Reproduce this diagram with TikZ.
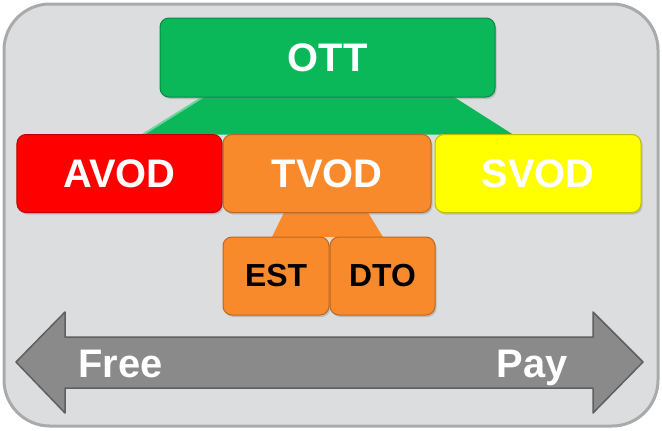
\documentclass[tikz,border=0pt]{standalone}
\usepackage{fontspec}
\setmainfont{Liberation Sans}
\usetikzlibrary{backgrounds,shadows}
\definecolor{Panel}{HTML}{DCDDDE}
\definecolor{PanelEdge}{HTML}{A9AAAB}
\definecolor{Leaf}{HTML}{0AB85A}
\definecolor{Crimson}{HTML}{FF0000}
\definecolor{Amber}{HTML}{F98A2C}
\definecolor{Lemon}{HTML}{FFFF00}
\definecolor{Slate}{HTML}{8A8A8A}
\definecolor{SlateEdge}{HTML}{5F5F5F}
\tikzset{
  tile/.style={draw=#1!75!black,fill=#1,line width=1bp,rounded corners=9bp,
    inner sep=0bp,outer sep=0bp,
    drop shadow={shadow xshift=1.5bp,shadow yshift=-2bp,opacity=.35}},
  bigtext/.style={text=white,font=\bfseries\fontsize{40}{40}\selectfont},
  smalltext/.style={text=black,font=\bfseries\fontsize{32}{32}\selectfont},
}

\begin{document}
\begin{tikzpicture}[x=1bp,y=-1bp]
  \path[use as bounding box] (0,0) rectangle (662,430);

  % service tiles
  \node[tile=Leaf,bigtext,minimum width=335bp,minimum height=79bp]
    (ott) at (327.5,57.5) {OTT};
  \node[tile=Crimson,bigtext,minimum width=205bp,minimum height=78bp]
    (avod) at (119.5,173.5) {AVOD};
  \node[tile=Amber,bigtext,minimum width=208bp,minimum height=78bp]
    (tvod) at (327,173.5) {TVOD};
  \node[tile=Lemon,bigtext,minimum width=206bp,minimum height=78bp]
    (svod) at (538,173.5) {SVOD};
  \node[tile=Amber,smalltext,minimum width=106bp,minimum height=78bp]
    (est) at (276,276) {EST};
  \node[tile=Amber,smalltext,minimum width=105bp,minimum height=78bp]
    (dto) at (382.5,276) {DTO};

  \begin{scope}[on background layer]
    \draw[PanelEdge,fill=Panel,line width=3bp,rounded corners=46bp]
      (4,4) rectangle (658,426);
    \fill[Leaf] ([xshift=43bp]ott.south west) -- ([xshift=-41bp]ott.south east)
      -- ([xshift=-128bp]svod.north east) -- ([xshift=126bp]avod.north west) -- cycle;
    \draw[Leaf!60!white,line width=2bp] ([xshift=43bp]ott.south west)
      -- ([xshift=126bp]avod.north west);
    \fill[Amber] ([xshift=61bp]tvod.south west) -- ([xshift=-63bp]tvod.south east)
      -- ([xshift=-52bp]dto.north east) -- ([xshift=49bp]est.north west) -- cycle;
  \end{scope}

  % free to pay scale
  \draw[SlateEdge,fill=Slate,line width=1.5bp,line join=round]
    (16,362) -- (65,312) -- (65,337) -- (593,337) -- (593,312) -- (643,362)
    -- (593,413) -- (593,388) -- (65,388) -- (65,413) -- cycle;
  \node[bigtext,anchor=base west,inner sep=0bp] (free) at (78,377) {Free};
  \node[bigtext,anchor=base east,inner sep=0bp] (pay) at (568,377) {Pay};
\end{tikzpicture}
\end{document}
